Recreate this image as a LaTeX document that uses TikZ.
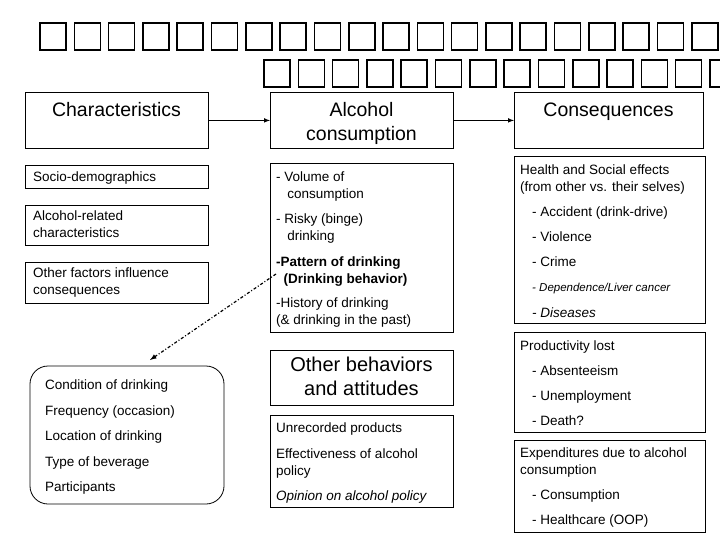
\documentclass[tikz,border=0pt]{standalone}
\usepackage{fontspec}
\setmainfont{Liberation Sans}
\begin{document}
\begin{tikzpicture}[x=1pt,y=-1pt,
  bx/.style={draw,thick,line width=0.8pt},
  t/.style={anchor=north west,font=\fontsize{13.5}{17}\selectfont,align=left,inner sep=0pt,yshift=-3pt},
  h/.style={anchor=north,font=\fontsize{19.5}{24}\selectfont,align=center,inner sep=0pt,yshift=-3pt},
  arr/.style={-latex,line width=1pt},
  tofu/.style={draw,line width=1.6pt}]
\useasboundingbox (0,0) rectangle (720,540);
% title tofu glyph boxes
\foreach \i in {0,...,19} {\draw[tofu] (40+34.3*\i,23) rectangle ++(26,27);}
\foreach \i in {0,...,13} {\draw[tofu] (264+34.3*\i,60) rectangle ++(26,27);}
% header boxes
\node[bx,minimum width=183,minimum height=56,anchor=north west] (ch) at (25,92) {};
\node[h] at (116.5,99) {Characteristics};
\node[bx,minimum width=183,minimum height=56,anchor=north west] (ac) at (270,92) {};
\node[h] at (361.5,99) {Alcohol\\consumption};
\node[bx,minimum width=189,minimum height=56,anchor=north west] (co) at (514,92) {};
\node[h] at (608.5,100) {Consequences};
\draw[arr] (ch.east) -- (ac.west);
\draw[arr] (ac.east) -- (co.west);
% left column
\draw[bx] (25,165) rectangle (208,188);
\node[t] at (33,169) {Socio-demographics};
\draw[bx] (25,205) rectangle (208,245);
\node[t] at (33,208) {Alcohol-related\\characteristics};
\draw[bx] (25,262) rectangle (208,303);
\node[t] at (33,265) {Other factors influence\\consequences};
\draw[bx,rounded corners=18] (30,366) rectangle (224,504);
\node[t,font=\fontsize{13.5}{25.5}\selectfont] (cond) at (45,377) {Condition of drinking\\Frequency (occasion)\\Location of drinking\\Type of beverage\\Participants};
% middle column
\draw[bx] (270,163) rectangle (453,332);
\node[t] at (276,169) {- Volume of\\\ \ \ consumption};
\node[t] at (276,211) {- Risky (binge)\\\ \ \ drinking};
\node[t,font=\bfseries\fontsize{13.5}{17}\selectfont] (pat) at (276,254) {-Pattern of drinking\\\ \ (Drinking behavior)};
\node[t] at (276,295) {-History of drinking\\(\& drinking in the past)};
\coordinate (ds) at (276,274);
\coordinate (de) at (150,360);
\draw[-latex,line width=1.2pt,dash pattern=on 3pt off 2pt on 1pt off 2pt] (ds) -- (de);
\draw[bx] (270,350) rectangle (453,405);
\node[h,font=\fontsize{20}{24}\selectfont] at (361.5,354) {Other behaviors\\and attitudes};
\draw[bx] (270,415) rectangle (453,507);
\node[t] at (276,420) {Unrecorded products};
\node[t] at (276,446) {Effectiveness of alcohol\\policy};
\node[t,font=\itshape\fontsize{13.5}{17}\selectfont] at (276,488) {Opinion on alcohol policy};
% right column
\draw[bx] (514,156) rectangle (705,323);
\node[t] at (520,162) {Health and Social effects\\(from other vs. their selves)};
\node[t] at (532,204) {- Accident (drink-drive)};
\node[t] at (532,229) {- Violence};
\node[t] at (532,254) {- Crime};
\node[t,font=\itshape\fontsize{11.5}{14}\selectfont] at (532,280) {- Dependence/Liver cancer};
\node[t,font=\itshape\fontsize{13.5}{17}\selectfont] at (532,305) {- Diseases};
\draw[bx] (514,332) rectangle (705,432);
\node[t] at (520,338) {Productivity lost};
\node[t] at (532,363) {- Absenteeism};
\node[t] at (532,388) {- Unemployment};
\node[t] at (532,413) {- Death?};
\draw[bx] (514,440) rectangle (705,532);
\node[t] at (520,445) {Expenditures due to alcohol\\consumption};
\node[t] at (532,487) {- Consumption};
\node[t] at (532,512) {- Healthcare (OOP)};
\end{tikzpicture}
\end{document}
